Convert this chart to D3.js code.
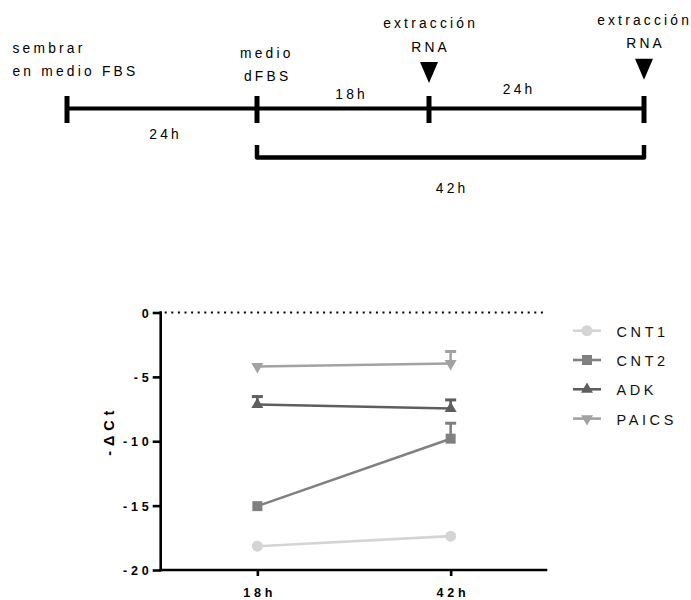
<!DOCTYPE html>
<html>
<head>
<meta charset="utf-8">
<script src="https://cdn.jsdelivr.net/npm/d3@7"></script>
<style>
  html, body { margin: 0; padding: 0; background: #fff; }
  svg { display: block; font-family: "Liberation Sans", Arial, Helvetica, sans-serif; }
</style>
</head>
<body>
<svg id="chart" width="691" height="600"></svg>
<script>
// ---------- Timeline data ----------
const timeEvents = [0, 24, 42, 66];            // hours since seeding
const startLabel = ["sembrar", "en medio FBS"];
const mediumLabel = ["medio", "dFBS"];
const extractionLabel = ["extracción", "RNA"];
const extractionTimes = [42, 66];
const segmentLabels = ["24h", "18h", "24h"];
const bracketLabel = "42h";

// ---------- Plot data ----------
const timepoints = ["18h", "42h"];
const seriesNames = ["CNT1", "CNT2", "ADK", "PAICS"];
const cnt1 = [-18.15, -17.37];
const cnt2 = [-15.04, -9.80];
const adk = [-7.15, -7.46];
const paics = [-4.20, -3.96];
const cnt1Sem = [0, 0];
const cnt2Sem = [0, 1.20];
const adkSem = [0.62, 0.67];
const paicsSem = [0, 0.93];
const yTicks = [0, -5, -10, -15, -20];
const yLabel = "-ΔCt";

const svg = d3.select("#chart");

// ================= TIMELINE =================
const tl = svg.append("g");
const tx = d3.scaleLinear().domain(timeEvents).range([67, 257, 429, 644]);
const lineY = 108.5;
const tFont = 13.8, tLS = 3.2;

function tText(str, x, y, anchor) {
  const t = tl.append("text")
    .attr("x", x).attr("y", y)
    .attr("font-size", tFont)
    .attr("letter-spacing", tLS)
    .attr("fill", "#000")
    .attr("text-anchor", anchor || "middle")
    .text(str);
  if ((anchor || "middle") === "middle") t.attr("dx", tLS / 2);
  return t;
}

tl.append("line")
  .attr("x1", tx(timeEvents[0])).attr("x2", tx(timeEvents[timeEvents.length - 1]))
  .attr("y1", lineY).attr("y2", lineY)
  .attr("stroke", "#000").attr("stroke-width", 4);

tl.selectAll("rect.tick").data(timeEvents).join("rect")
  .attr("class", "tick")
  .attr("x", d => tx(d) - 2.5).attr("width", 5)
  .attr("y", 96).attr("height", 27)
  .attr("fill", "#000");

// segment labels
segmentLabels.forEach((s, i) => {
  const mid = (tx(timeEvents[i]) + tx(timeEvents[i + 1])) / 2;
  const offs = [[2, 30], [7, -10], [-19, -15]][i];
  tText(s, mid + offs[0], lineY + offs[1]);
});

// start label
startLabel.forEach((s, i) => tText(s, 12.5, 52.5 + i * 23.5, "start"));
// medium label
mediumLabel.forEach((s, i) => tText(s, tx(24) + (i ? -13 : -17), 58.3 + i * 22.5, "start"));

// extraction labels + triangles
extractionTimes.forEach((h, k) => {
  const x = tx(h);
  const shift = k ? -3.3 : 0;
  tText(extractionLabel[0], x + (k ? -1 : 0), 28.3 + shift);
  tText(extractionLabel[1], x, 51.7 + shift);
  tl.append("path")
    .attr("d", `M${x - 9},${62 + shift} L${x + 9},${62 + shift} L${x},${83 + shift} Z`)
    .attr("fill", "#000");
});

// bracket 24h -> 66h
const bY = 157.5;
tl.append("path")
  .attr("d", `M${tx(24)},145 L${tx(24)},${bY} L${tx(66)},${bY} L${tx(66)},145`)
  .attr("fill", "none").attr("stroke", "#000").attr("stroke-width", 4.5)
  .attr("stroke-linejoin", "round");
tText(bracketLabel, (tx(24) + tx(66)) / 2, 193.3);

// ================= PLOT =================
const x = d3.scalePoint().domain(timepoints).range([160.7, 547.3]).padding(0.5);
const y = d3.scaleLinear().domain([-20, 0]).range([570, 312.5]);

const series = [
  { name: seriesNames[0], values: cnt1, sem: cnt1Sem, color: "#d4d4d4", symbol: d3.symbolCircle, size: 95, rot: 0 },
  { name: seriesNames[1], values: cnt2, sem: cnt2Sem, color: "#808080", symbol: d3.symbolSquare, size: 100, rot: 0 },
  { name: seriesNames[2], values: adk, sem: adkSem, color: "#5e5e5e", symbol: d3.symbolTriangle, size: 62, rot: 0 },
  { name: seriesNames[3], values: paics, sem: paicsSem, color: "#a2a2a2", symbol: d3.symbolTriangle, size: 62, rot: 180 }
];

// zero dotted line
svg.append("line")
  .attr("x1", x.range()[0] + 4).attr("x2", x.range()[1])
  .attr("y1", y(0)).attr("y2", y(0))
  .attr("stroke", "#000").attr("stroke-width", 2)
  .attr("stroke-dasharray", "2,4.6");

// axes
const yAxis = d3.axisLeft(y).tickValues(yTicks).tickSize(8).tickSizeOuter(0).tickPadding(4)
  .tickFormat(d => String(d));
const gy = svg.append("g").attr("transform", `translate(${x.range()[0]},0)`).call(yAxis);
const xAxis = d3.axisBottom(x).tickSize(6).tickSizeOuter(0).tickPadding(12);
const gx = svg.append("g").attr("transform", `translate(0,${y(-20)})`).call(xAxis);

[gx, gy].forEach(g => {
  g.select(".domain").attr("stroke", "#000").attr("stroke-width", 2.6);
  g.selectAll(".tick line").attr("stroke", "#000").attr("stroke-width", 2.6);
  g.selectAll(".tick text")
    .attr("fill", "#000")
    .attr("font-family", "'Liberation Sans', Arial, sans-serif")
    .attr("font-size", 12.5)
    .attr("font-weight", "bold")
    .attr("letter-spacing", 3.8);
});
gy.selectAll(".tick text").attr("dx", 3.8).attr("dy", "0.36em");
gx.selectAll(".tick text").attr("dx", 1.9).attr("dy", "0.71em");
gx.select(".domain").attr("d", `M${x.range()[0] - 1.3},0H${x.range()[1]}`);
gy.select(".domain").attr("d", `M0,${y(-20) + 1.3}V${y(0) - 1.3}`);

// y label
svg.append("text")
  .attr("transform", `translate(114,${(y(-5.5) + y(-13.1)) / 2 + 1}) rotate(-90)`)
  .attr("text-anchor", "middle")
  .attr("dx", 2.4)
  .attr("font-size", 14.5)
  .attr("font-weight", "bold")
  .attr("letter-spacing", 4.8)
  .attr("fill", "#000")
  .text(yLabel);

// series lines, error bars, markers
series.forEach(s => {
  const g = svg.append("g");
  const pts = timepoints.map((t, i) => ({ t, v: s.values[i], e: s.sem[i] }));
  g.append("path")
    .datum(pts)
    .attr("d", d3.line().x(d => x(d.t)).y(d => y(d.v)))
    .attr("fill", "none").attr("stroke", s.color).attr("stroke-width", 2.6);
  const eb = g.selectAll("g.eb").data(pts.filter(d => d.e > 0)).join("g").attr("class", "eb");
  eb.append("line")
    .attr("x1", d => x(d.t)).attr("x2", d => x(d.t))
    .attr("y1", d => y(d.v)).attr("y2", d => y(d.v + d.e))
    .attr("stroke", s.color).attr("stroke-width", 2.6);
  eb.append("line")
    .attr("x1", d => x(d.t) - 5.5).attr("x2", d => x(d.t) + 5.5)
    .attr("y1", d => y(d.v + d.e)).attr("y2", d => y(d.v + d.e))
    .attr("stroke", s.color).attr("stroke-width", 3);
  g.selectAll("path.m").data(pts).join("path")
    .attr("class", "m")
    .attr("d", d3.symbol().type(s.symbol).size(s.size))
    .attr("transform", d => `translate(${x(d.t)},${y(d.v)}) rotate(${s.rot})`)
    .attr("fill", s.color);
});

// legend
const lg = svg.append("g");
series.forEach((s, i) => {
  const base = 336.7 + i * 29.3;
  const ly = base - 6;
  lg.append("line")
    .attr("x1", 573).attr("x2", 601).attr("y1", ly).attr("y2", ly)
    .attr("stroke", s.color).attr("stroke-width", 2.6);
  lg.append("path")
    .attr("d", d3.symbol().type(s.symbol).size(s.size))
    .attr("transform", `translate(587,${ly}) rotate(${s.rot})`)
    .attr("fill", s.color);
  lg.append("text")
    .attr("x", 616.5).attr("y", base)
    .attr("font-size", 14.5)
    .attr("letter-spacing", 3.6)
    .attr("fill", "#111")
    .text(s.name);
});
</script>
</body>
</html>
